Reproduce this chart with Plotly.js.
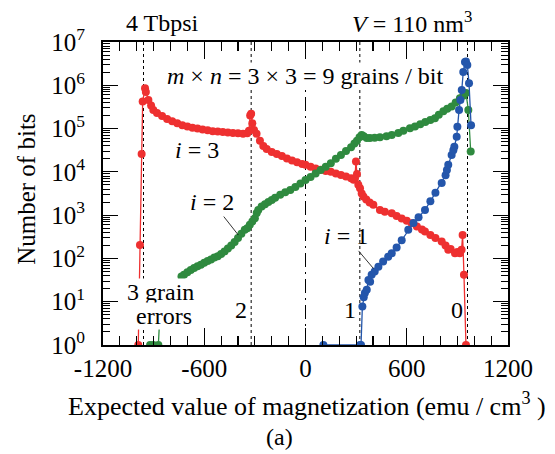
<!DOCTYPE html>
<html>
<head>
<meta charset="utf-8">
<script src="https://cdn.plot.ly/plotly-3.0.1.min.js"></script>
<style>html,body{margin:0;padding:0;background:#fff}</style>
</head>
<body>
<div id="chart" style="width:555px;height:454px"></div>
<script>
// ---- data ----
const redX = [-991,-981,-971,-965,-951,-946,-931,-915,-902,-880,-850,-820,-790,-760,-730,-700,-670,-640,-610,-580,-550,-520,-490,-460,-430,-400,-370,-345,-335,-328,-322,-315,-305,-290,-270,-250,-230,-200,-170,-140,-110,-80,-50,-20,0,30,60,90,120,150,180,210,240,270,285,293,299,305,313,323,333,343,360,380,402,441,470,511,540,570,600,629,660,690,708,740,770,807,830,846,860,886,900,915,925,931,939,951];
const redY = [1,205,26000,420000,850000,700000,460000,340000,270000,229000,195000,166000,148000,132000,120000,112000,105000,100000,95500,91200,87100,85100,83200,81300,79400,77600,75900,77600,89100,200000,219000,132000,93300,75900,52500,39800,33900,28800,25700,23400,20400,18200,16600,15100,14500,13200,12000,11200,10500,10000,9120,8510,7760,7080,6610,7080,17400,8910,5010,4170,3160,2690,2290,1950,1740,1320,1200,1100,955,832,741,646,550,468,417,347,295,245,200,158,166,132,141,132,158,347,42,1];

const greenX = [-921,-902,-872,-858,-735,-720,-700,-680,-660,-640,-620,-600,-580,-560,-540,-520,-500,-480,-460,-440,-420,-400,-380,-360,-345,-330,-315,-300,-289,-280,-260,-240,-220,-200,-180,-150,-120,-90,-60,-30,0,30,60,90,120,150,180,210,240,270,290,305,320,333,345,363,382,410,441,480,511,550,580,619,649,680,710,740,767,790,817,840,866,890,915,935,951,965,979];
const greenY = [1,1,1,12,38,42,48,54,60,66,71,79,87,95,105,112,126,145,170,200,240,295,370,460,500,600,710,850,1120,1320,1580,1780,2000,2240,2510,2950,3390,3800,4470,5370,6460,7590,9120,11000,13200,15800,20000,24500,30200,37200,45000,52500,63100,70800,66100,60300,60300,61700,63100,66100,70800,79400,89100,102000,112000,126000,141000,158000,174000,209000,251000,288000,324000,398000,501000,575000,661000,269000,29500];

const blueX = [106,323,329,337,345,352,363,373,383,392,410,432,460,490,511,540,570,609,640,670,708,740,770,807,830,838,846,866,876,882,896,900,910,918,926,935,945,951,959,969,981];
const blueY = [1,1,1,7.8,12.6,15.8,19,31.6,28.8,41.7,50,64.6,85,110,132,178,263,457,661,891,1320,2090,3310,5500,8320,11000,14500,24500,31600,38000,64600,110000,270000,457000,776000,2040000,3470000,3550000,2950000,1120000,120000];

const guideX = [-960, -322, 322, 960];          // dotted lines
const xTickVals = [-1200, -600, 0, 600, 1200];
const xTickText = ['-1200', '-600', '0', '600', '1200'];
const yTickVals = [1, 10, 100, 1000, 10000, 100000, 1000000, 10000000];
const yTickText = ['10<sup>0</sup>','10<sup>1</sup>','10<sup>2</sup>','10<sup>3</sup>','10<sup>4</sup>','10<sup>5</sup>','10<sup>6</sup>','10<sup>7</sup>'];

// ---- styling ----
const RED = '#ee3030', GREEN = '#2f8a3f', BLUE = '#2456ab';
const FONT = 'Liberation Serif';

function series(x, y, c) {
  return {x: x, y: y, type: 'scatter', mode: 'lines+markers',
          line: {color: c, width: 1.3}, marker: {color: c, size: 8}, hoverinfo: 'skip'};
}
const traces = [series(redX, redY, RED), series(greenX, greenY, GREEN), series(blueX, blueY, BLUE)];

const shapes = guideX.map(v => ({type: 'line', xref: 'x', yref: 'paper', x0: v, x1: v, y0: 0, y1: 1,
  layer: 'below', line: {color: '#000', width: 1, dash: 'dot'}}));
shapes.push({type: 'line', xref: 'x', yref: 'paper', x0: 0, x1: 0, y0: 0, y1: 1, layer: 'below',
  line: {color: '#000', width: 1, dash: '14px,5px,2px,5px'}});

const T = (text, x, y, extra) => Object.assign({text: text, xref: 'paper', yref: 'paper', x: x, y: y,
  xanchor: 'center', yanchor: 'middle', showarrow: false, font: {family: FONT, size: 24, color: '#000'}}, extra || {});

const annotations = [
  T('4 Tbpsi', 0.148, 1.062),
  T('<i>V</i> = 110 nm<sup>3</sup>', 0.763, 1.066),
  T('<i>m</i> × <i>n</i> = 3 × 3 = 9 grains / bit', 0.499, 0.888, {bgcolor: '#fff', borderpad: 0}),
  T('<i>i</i> = 3', 0.232, 0.644),
  T('3 grain', 0.143, 0.175, {bgcolor: '#fff', borderpad: 0}),
  T('errors', 0.150, 0.096, {bgcolor: '#fff', borderpad: 0}),
  T('2', 0.341, 0.116),
  T('1', 0.610, 0.116),
  T('0', 0.874, 0.116),
  T('(a)', 0.437, -0.304),
  T('Expected value of magnetization (emu / cm<sup>3</sup> )', 0.503, -0.198, {font: {family: FONT, size: 26, color: '#000'}}),
  T('Number of bits', -0.188, 0.515, {textangle: -90, font: {family: FONT, size: 25, color: '#000'}}),
  {text: '<i>i</i> = 2', xref: 'x', yref: 'y', x: -398, y: 2.54, ax: -26, ay: -33, showarrow: true,
   arrowhead: 0, arrowwidth: 0.8, arrowcolor: '#000', font: {family: FONT, size: 24, color: '#000'}},
  {text: '<i>i</i> = 1', xref: 'x', yref: 'y', x: 402, y: 1.77, ax: -27, ay: -32, showarrow: true,
   arrowhead: 0, arrowwidth: 0.8, arrowcolor: '#000', font: {family: FONT, size: 24, color: '#000'}}
];

const layout = {
  width: 555, height: 454,
  margin: {l: 103, r: 47, t: 42, b: 109, pad: 0},
  paper_bgcolor: '#fff', plot_bgcolor: '#fff',
  showlegend: false,
  font: {family: FONT, color: '#000', size: 24},
  xaxis: {
    range: [-1200, 1200], tickmode: 'array', tickvals: xTickVals, ticktext: xTickText,
    ticks: 'inside', ticklen: 17, tickwidth: 1.2, tickcolor: '#000',
    showline: true, linewidth: 2, linecolor: '#000', mirror: 'ticks',
    showgrid: false, zeroline: false, tickfont: {family: FONT, size: 25}, ticklabelstandoff: 0,
    minor: {tickmode: 'linear', tick0: 0, dtick: 100, ticks: 'inside', ticklen: 9, tickwidth: 1.2, tickcolor: '#000', showgrid: false}
  },
  yaxis: {
    type: 'log', range: [0, 7], tickmode: 'array', tickvals: yTickVals, ticktext: yTickText,
    ticks: 'inside', ticklen: 15, tickwidth: 1.2, tickcolor: '#000',
    showline: true, linewidth: 2, linecolor: '#000', mirror: 'ticks',
    showgrid: false, zeroline: false, tickfont: {family: FONT, size: 25}, ticklabelstandoff: 11,
    minor: {tickmode: 'linear', dtick: 'D1', ticks: 'inside', ticklen: 7, tickwidth: 1, tickcolor: '#000', showgrid: false}
  },
  shapes: shapes,
  annotations: annotations
};

Plotly.newPlot('chart', traces, layout, {staticPlot: true, displayModeBar: false});
</script>
</body>
</html>
